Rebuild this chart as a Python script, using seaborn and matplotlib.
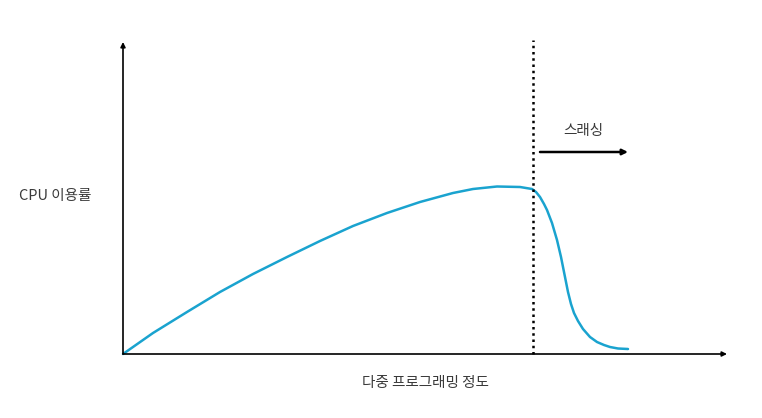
import pandas as pd
import matplotlib.pyplot as plt
import seaborn as sns

# values (x: degree of multiprogramming, y: CPU utilisation)
degree = [0, 30, 64, 97, 130, 164, 197, 230, 264, 297, 330, 350, 374, 397,
          409, 413, 417, 421, 424, 429, 434, 438, 442, 445, 448, 451, 455,
          460, 467, 474, 481, 487, 495, 505]
cpu = [0, 21, 42, 62, 80, 97, 113, 128, 141, 152, 161, 165, 167.5, 167,
       165, 162, 157, 150, 144, 131, 114, 97, 77, 62, 50, 41, 33,
       25, 17, 12, 9, 7, 5.5, 5]
thrashing_start = 410
labels = {"y": "CPU 이용률", "x": "다중 프로그래밍 정도", "thrash": "스래싱"}

df = pd.DataFrame({"degree": degree, "cpu": cpu})

sns.set_theme(style="white")
plt.rcParams["font.family"] = ["Noto Sans CJK KR", "DejaVu Sans"]

fig = plt.figure(figsize=(7.62, 4.18), dpi=100)
ax = fig.add_axes([0, 0, 1, 1])
ax.set_xlim(-123, 639)
ax.set_ylim(-64, 354)
ax.axis("off")

# curve
sns.lineplot(data=df, x="degree", y="cpu", sort=False, color="#1aa3cf",
             linewidth=1.8, ax=ax)

# axes with arrow heads
arrow = dict(arrowstyle="-|>", color="black", lw=1.2, mutation_scale=7,
             shrinkA=0, shrinkB=0)
ax.annotate("", xy=(604, 0), xytext=(0, 0), arrowprops=arrow)
ax.annotate("", xy=(0, 312), xytext=(0, 0), arrowprops=arrow)

# thrashing boundary
ax.plot([thrashing_start, thrashing_start], [0, 314], color="black",
        linestyle=(0, (1, 1.5)), linewidth=1.8)
ax.annotate("", xy=(505, 202), xytext=(417, 202),
            arrowprops=dict(arrowstyle="-|>", color="black", lw=1.8,
                            mutation_scale=8, shrinkA=0, shrinkB=0))

# labels
ax.text(-68, 158, labels["y"], ha="center", va="center", fontsize=10.5, color="#3a3a3a")
ax.text(302, -29, labels["x"], ha="center", va="center", fontsize=10.5, color="#3a3a3a")
ax.text(460, 223, labels["thrash"], ha="center", va="center", fontsize=10.5, color="#3a3a3a")

plt.savefig("out.png", dpi=100)
